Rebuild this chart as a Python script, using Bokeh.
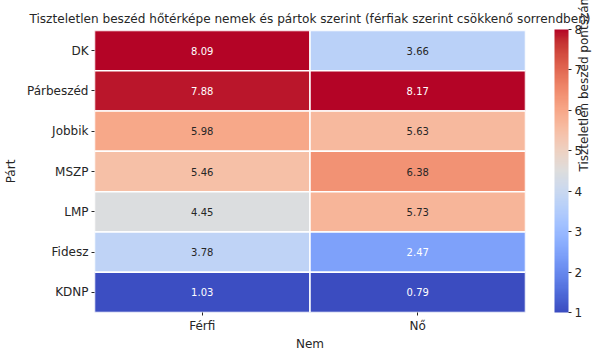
import numpy as np
from bokeh.plotting import figure
from bokeh.models import (ColumnDataSource, LinearColorMapper, ColorBar, FixedTicker,
                          FactorRange, CategoricalAxis)
from bokeh.transform import transform
from bokeh.core.properties import value
from bokeh.embed import file_html
from bokeh.resources import INLINE

# ---- data ----
parties = ["DK", "Párbeszéd", "Jobbik", "MSZP", "LMP", "Fidesz", "KDNP"]
genders = ["Férfi", "Nő"]
ferfi = [8.09, 7.88, 5.98, 5.46, 4.45, 3.78, 1.03]
no = [3.66, 8.17, 5.63, 6.38, 5.73, 2.47, 0.79]
cbar_ticks = [1, 2, 3, 4, 5, 6, 7, 8]
vmin, vmax = 1, 8
title_text = "Tiszteletlen beszéd hőtérképe nemek és pártok szerint (férfiak szerint csökkenő sorrendben)"
cbar_label = "Tiszteletlen beszéd pontszám"
x_label = "Nem"
y_label = "Párt"

# ---- coolwarm palette (Moreland anchors) ----
anchors = [
    (59, 76, 192), (68, 90, 204), (77, 104, 215), (87, 117, 225), (98, 130, 234),
    (108, 142, 241), (119, 154, 247), (130, 165, 251), (141, 176, 254), (152, 185, 255),
    (163, 194, 255), (174, 201, 253), (184, 208, 249), (194, 213, 244), (204, 217, 238),
    (213, 219, 230), (221, 221, 221), (229, 216, 209), (236, 211, 197), (241, 204, 185),
    (245, 196, 173), (247, 187, 160), (247, 177, 148), (247, 166, 135), (244, 154, 123),
    (241, 141, 111), (236, 127, 99), (229, 112, 88), (222, 96, 77), (213, 80, 66),
    (203, 62, 56), (192, 40, 47), (180, 4, 38)]
anc = np.array(anchors, dtype=float)
ta = np.linspace(0, 1, len(anc))
tt = np.linspace(0, 1, 256)
rgb = np.stack([np.interp(tt, ta, anc[:, k]) for k in range(3)], axis=1)
palette = ["#%02x%02x%02x" % tuple(int(round(c)) for c in row_) for row_ in rgb]

def text_color(v):
    idx = int(np.clip((v - vmin) / (vmax - vmin) * 256, 0, 255))
    c = rgb[idx] / 255.0
    lin = np.where(c <= 0.03928, c / 12.92, ((c + 0.055) / 1.055) ** 2.4)
    lum = 0.2126 * lin[0] + 0.7152 * lin[1] + 0.0722 * lin[2]
    return "#262626" if lum > 0.408 else "#ffffff"

xs, ys, vals, labels, tcols = [], [], [], [], []
for g, series in zip(genders, [ferfi, no]):
    for party, v in zip(parties, series):
        xs.append(g); ys.append(party); vals.append(v)
        labels.append("%.2f" % v); tcols.append(text_color(v))
src = ColumnDataSource(dict(x=xs, y=ys, v=vals, lab=labels, tc=tcols))

mapper = LinearColorMapper(palette=palette, low=vmin, high=vmax)

FONT = "DejaVu Sans"
DARK = "#262626"
W, H = 602, 353
LEFT, RIGHT, TOP, BOTTOM = 89, W - 525, 30, 40
FH = H - TOP - BOTTOM

p = figure(width=W, height=H, output_backend="svg", toolbar_location=None,
           x_range=FactorRange(*genders), y_range=FactorRange(*reversed(parties)),
           min_border_left=LEFT, min_border_right=RIGHT, min_border_top=TOP,
           min_border_bottom=BOTTOM)

p.rect(x="x", y="y", width=1, height=1, source=src,
       fill_color=transform("v", mapper), line_color="white", line_width=1.5)
p.text(x="x", y="y", text="lab", source=src, text_color="tc",
       text_align="center", text_baseline="middle",
       text_font_size="10px", text_font=value(FONT))

p.grid.visible = False
p.outline_line_color = None
p.background_fill_color = "white"
p.border_fill_color = "white"
for ax in (p.xaxis[0], p.yaxis[0]):
    ax.axis_line_color = None
    ax.major_tick_in = 0
    ax.major_tick_out = 3
    ax.major_tick_line_color = DARK
    ax.minor_tick_line_color = None
    ax.major_label_text_font = FONT
    ax.major_label_text_font_size = "12px"
    ax.major_label_text_color = DARK
    ax.axis_label_text_font = FONT
    ax.axis_label_text_font_size = "12px"
    ax.axis_label_text_font_style = "normal"
    ax.axis_label_text_color = DARK
p.xaxis.axis_label = x_label
p.yaxis.axis_label = y_label
p.xaxis.major_label_standoff = 3
p.yaxis.major_label_standoff = 3
p.xaxis.axis_label_standoff = 1
p.yaxis.axis_label_standoff = 6

p.title.text = title_text
p.title.text_font = FONT
p.title.text_font_size = "12.1px"
p.title.text_font_style = "normal"
p.title.text_color = DARK
p.title.align = "center"

cb = ColorBar(color_mapper=mapper, ticker=FixedTicker(ticks=cbar_ticks),
              location=(549 - LEFT, 0), width=14, height=FH,
              padding=0, margin=0, bar_line_color=None,
              major_tick_in=0, major_tick_out=3, major_tick_line_color=DARK,
              minor_tick_line_color=None, label_standoff=3,
              major_label_text_font=FONT, major_label_text_font_size="12px",
              major_label_text_color=DARK, background_fill_color=None,
              border_line_color=None)
p.add_layout(cb)

# colour bar label: an empty right-hand axis whose label reads bottom-to-top
ra = CategoricalAxis(axis_line_color=None, major_tick_in=0, major_tick_out=0,
                     major_tick_line_color=None, minor_tick_line_color=None,
                     major_label_standoff=0, major_label_text_font_size="0px",
                     axis_label=cbar_label, axis_label_standoff=58,
                     axis_label_text_font=FONT, axis_label_text_font_size="12px",
                     axis_label_text_font_style="normal", axis_label_text_color=DARK)
if "axis_label_orientation" in CategoricalAxis.properties():
    ra.axis_label_orientation = np.pi / 2
p.add_layout(ra, "right")

open("out.html", "w").write(file_html(p, INLINE))
